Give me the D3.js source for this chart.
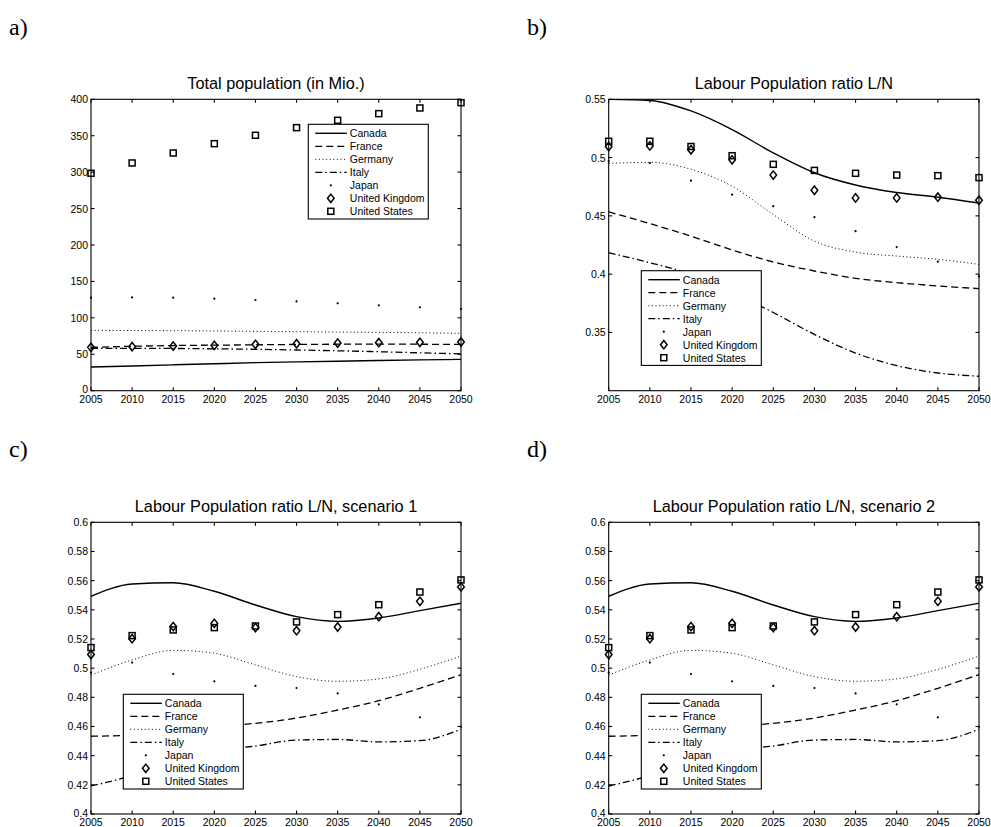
<!DOCTYPE html>
<html>
<head>
<meta charset="utf-8">
<script src="https://cdn.jsdelivr.net/npm/d3@7"></script>
<style>
  body { margin: 0; background: #fff; }
  svg { display: block; }
  text { font-family: "Liberation Sans", Arial, sans-serif; fill: #000; }
</style>
</head>
<body>
<svg id="chart" width="991" height="827"></svg>
<script>
// years on the x axis, one point every 5 years
const years = [2005, 2010, 2015, 2020, 2025, 2030, 2035, 2040, 2045, 2050]
const countries = ['Canada', 'France', 'Germany', 'Italy', 'Japan', 'United Kingdom', 'United States']

// a) total population, millions
const totalPop = {
    'Canada':         [32.5, 34, 35.5, 37, 38.5, 39.5, 40.5, 41.5, 42.3, 43],
    'France':         [59.5, 61, 62, 62.5, 63, 63.5, 63.8, 64, 63.8, 63.5],
    'Germany':        [82.8, 82.6, 82.4, 82.0, 81.5, 81, 80.5, 80, 79.5, 78.7],
    'Italy':          [58.1, 58.2, 58, 57.5, 56.8, 55.9, 54.8, 53.5, 52, 50.5],
    'Japan':          [127.7, 128.1, 127.7, 126.3, 124.5, 122.6, 119.9, 117.2, 114.4, 112.1],
    'United Kingdom': [59.5, 60.4, 61.3, 62.2, 63.6, 64.5, 65.4, 65.9, 66.4, 66.8],
    'United States':  [298.4, 312.6, 326.3, 339.1, 350.6, 361.1, 371.2, 380.3, 388.1, 395.4]
}

// b) labour population ratio L/N
const labourRatio = {
    'Canada':         [0.550, 0.549, 0.540, 0.524, 0.504, 0.487, 0.4765, 0.470, 0.466, 0.461],
    'France':         [0.4534, 0.4434, 0.4326, 0.4207, 0.4104, 0.4027, 0.3964, 0.3927, 0.3899, 0.3876],
    'Germany':        [0.495, 0.4959, 0.490, 0.4754, 0.4511, 0.4283, 0.4189, 0.4155, 0.4127, 0.4084],
    'Italy':          [0.4184, 0.4098, 0.3999, 0.3842, 0.3671, 0.3483, 0.3323, 0.3215, 0.3152, 0.3124],
    'Japan':          [0.497, 0.4953, 0.4802, 0.4682, 0.4583, 0.4489, 0.4369, 0.4232, 0.4107, 0.398],
    'United Kingdom': [0.5095, 0.510, 0.5067, 0.4981, 0.485, 0.472, 0.4654, 0.4654, 0.466, 0.4634],
    'United States':  [0.514, 0.514, 0.5095, 0.5016, 0.4942, 0.489, 0.4865, 0.485, 0.4845, 0.4828]
}

// c) labour population ratio, scenario 1
const labourScen1 = {
    'Canada':         [0.5493, 0.5577, 0.5586, 0.5527, 0.5433, 0.5353, 0.5321, 0.5344, 0.5394, 0.5445],
    'France':         [0.4533, 0.4542, 0.4571, 0.4599, 0.4622, 0.4658, 0.4713, 0.4777, 0.4862, 0.4955],
    'Germany':        [0.4953, 0.5056, 0.5122, 0.5102, 0.5022, 0.4942, 0.491, 0.4926, 0.4992, 0.5083],
    'Italy':          [0.4192, 0.4263, 0.436, 0.4432, 0.4466, 0.4507, 0.4511, 0.4494, 0.4503, 0.4581],
    'Japan':          [0.497, 0.5038, 0.496, 0.491, 0.4878, 0.4864, 0.4827, 0.4752, 0.4663, 0.4599],
    'United Kingdom': [0.5093, 0.5202, 0.5285, 0.5307, 0.5278, 0.5257, 0.5282, 0.5353, 0.5458, 0.5557],
    'United States':  [0.5141, 0.5223, 0.5262, 0.5278, 0.5289, 0.5317, 0.5367, 0.5435, 0.5522, 0.5605]
}

// d) scenario 2 reads the same as scenario 1 in the picture
const labourScen2 = {
    'Canada':         [0.5493, 0.5577, 0.5586, 0.5527, 0.5433, 0.5353, 0.5321, 0.5344, 0.5394, 0.5445],
    'France':         [0.4533, 0.4542, 0.4571, 0.4599, 0.4622, 0.4658, 0.4713, 0.4777, 0.4862, 0.4955],
    'Germany':        [0.4953, 0.5056, 0.5122, 0.5102, 0.5022, 0.4942, 0.491, 0.4926, 0.4992, 0.5083],
    'Italy':          [0.4192, 0.4263, 0.436, 0.4432, 0.4466, 0.4507, 0.4511, 0.4494, 0.4503, 0.4581],
    'Japan':          [0.497, 0.5038, 0.496, 0.491, 0.4878, 0.4864, 0.4827, 0.4752, 0.4663, 0.4599],
    'United Kingdom': [0.5093, 0.5202, 0.5285, 0.5307, 0.5278, 0.5257, 0.5282, 0.5353, 0.5458, 0.5557],
    'United States':  [0.5141, 0.5223, 0.5262, 0.5278, 0.5289, 0.5317, 0.5367, 0.5435, 0.5522, 0.5605]
}

const ticksPop = [0, 50, 100, 150, 200, 250, 300, 350, 400]
const ticksRatio = [0.35, 0.4, 0.45, 0.5, 0.55]
const ticksScen = [0.4, 0.42, 0.44, 0.46, 0.48, 0.5, 0.52, 0.54, 0.56, 0.58, 0.6]

// how each country is drawn
const styles = {
    'Canada':         { type: 'line', dash: null, width: 1.4 },
    'France':         { type: 'line', dash: '7,4' },
    'Germany':        { type: 'line', dash: '1,2.6', width: 1 },
    'Italy':          { type: 'line', dash: '7,3,1.5,3' },
    'Japan':          { type: 'dot' },
    'United Kingdom': { type: 'diamond' },
    'United States':  { type: 'square' }
}

const svg = d3.select('#chart')

function drawMarker(g, type, x, y) {
    if (type === 'dot') {
        g.append('circle').attr('cx', x).attr('cy', y).attr('r', 1.1)
            .attr('fill', '#000')
    } else if (type === 'diamond') {
        g.append('path')
            .attr('d', `M${x},${y - 4.2}L${x + 3.3},${y}L${x},${y + 4.2}L${x - 3.3},${y}Z`)
            .attr('fill', 'none').attr('stroke', '#000').attr('stroke-width', 1.5)
    } else if (type === 'square') {
        g.append('rect').attr('x', x - 3).attr('y', y - 3)
            .attr('width', 6).attr('height', 6)
            .attr('fill', 'none').attr('stroke', '#000').attr('stroke-width', 1.5)
    }
}

function drawPanel(p) {
    const g = svg.append('g')
    const x = d3.scaleLinear().domain([2005, 2050]).range([p.left, p.right])
    const y = d3.scaleLinear().domain(p.yDomain).range([p.bottom, p.top])

    // panel letter
    g.append('text').attr('x', p.labelX).attr('y', p.labelY)
        .style('font-family', '"Liberation Serif", "DejaVu Serif", serif')
        .style('font-size', '24px').text(p.label)

    // title
    g.append('text').attr('x', (p.left + p.right) / 2).attr('y', p.top - 10)
        .attr('text-anchor', 'middle').style('font-size', '16.3px').text(p.title)

    // series
    const clip = 'clip-' + p.label.replace(')', '')
    g.append('clipPath').attr('id', clip).append('rect')
        .attr('x', p.left).attr('y', p.top)
        .attr('width', p.right - p.left).attr('height', p.bottom - p.top)

    const line = d3.line()
        .x((d, i) => x(years[i]))
        .y(d => y(d))
        .curve(d3.curveMonotoneX)

    countries.forEach(c => {
        const s = styles[c]
        const vals = p.data[c]
        if (s.type === 'line') {
            g.append('path').attr('d', line(vals))
                .attr('clip-path', `url(#${clip})`)
                .attr('fill', 'none').attr('stroke', '#000')
                .attr('stroke-width', s.width || 1.3)
                .attr('stroke-dasharray', s.dash)
        } else {
            vals.forEach((v, i) => drawMarker(g, s.type, x(years[i]), y(v)))
        }
    })

    // axes box with inward ticks on all sides (matlab style)
    const axisG = g.append('g')
    const tl = 3.5
    p.yTicks.forEach(t => {
        const ty = y(t)
        axisG.append('line').attr('x1', p.left).attr('x2', p.left + tl).attr('y1', ty).attr('y2', ty)
        axisG.append('line').attr('x1', p.right).attr('x2', p.right - tl).attr('y1', ty).attr('y2', ty)
        g.append('text').attr('x', p.left - 3).attr('y', ty - (t === p.yDomain[0] ? 1.5 : 0))
            .attr('text-anchor', 'end').attr('dominant-baseline', 'central')
            .style('font-size', '10.5px').text(p.fmt(t))
    })
    years.forEach(t => {
        const tx = x(t)
        axisG.append('line').attr('x1', tx).attr('x2', tx).attr('y1', p.bottom).attr('y2', p.bottom - tl)
        axisG.append('line').attr('x1', tx).attr('x2', tx).attr('y1', p.top).attr('y2', p.top + tl)
        g.append('text').attr('x', tx).attr('y', p.bottom + 12)
            .attr('text-anchor', 'middle')
            .style('font-size', '10.5px').text(t)
    })
    axisG.append('rect').attr('x', p.left).attr('y', p.top)
        .attr('width', p.right - p.left).attr('height', p.bottom - p.top)
        .attr('fill', 'none')
    axisG.selectAll('line, rect').attr('stroke', '#000').attr('stroke-width', 1.1)

    // legend
    const lg = g.append('g').attr('transform', `translate(${p.legendX},${p.legendY})`)
    lg.append('rect').attr('width', 120).attr('height', 94.7)
        .attr('fill', '#fff').attr('stroke', '#000').attr('stroke-width', 1.1)
    countries.forEach((c, i) => {
        const s = styles[c]
        const ry = 9 + i * 13
        if (s.type === 'line') {
            lg.append('line').attr('x1', 7).attr('x2', 38.5).attr('y1', ry).attr('y2', ry)
                .attr('stroke', '#000').attr('stroke-width', s.width || 1.3)
                .attr('stroke-dasharray', s.dash)
        } else {
            drawMarker(lg, s.type, 22.5, ry)
        }
        lg.append('text').attr('x', 41.5).attr('y', ry)
            .attr('dominant-baseline', 'central')
            .style('font-size', '10.5px').text(c)
    })
}

const fmtNum = d => String(+d.toFixed(2))

drawPanel({
    label: 'a)', labelX: 9, labelY: 35, title: 'Total population (in Mio.)',
    left: 91, right: 461, top: 99.3, bottom: 390.7,
    yDomain: [0, 400], yTicks: ticksPop, fmt: fmtNum, data: totalPop,
    legendX: 308.3, legendY: 124.3
})
drawPanel({
    label: 'b)', labelX: 527, labelY: 35, title: 'Labour Population ratio L/N',
    left: 608.7, right: 979, top: 99.3, bottom: 390.7,
    yDomain: [0.3, 0.55], yTicks: ticksRatio, fmt: fmtNum, data: labourRatio,
    legendX: 641.3, legendY: 270.7
})
drawPanel({
    label: 'c)', labelX: 9, labelY: 457, title: 'Labour Population ratio L/N, scenario 1',
    left: 91, right: 461, top: 522.3, bottom: 814,
    yDomain: [0.4, 0.6], yTicks: ticksScen, fmt: fmtNum, data: labourScen1,
    legendX: 123.3, legendY: 694.3
})
drawPanel({
    label: 'd)', labelX: 527, labelY: 457, title: 'Labour Population ratio L/N, scenario 2',
    left: 608.7, right: 979, top: 522.3, bottom: 814,
    yDomain: [0.4, 0.6], yTicks: ticksScen, fmt: fmtNum, data: labourScen2,
    legendX: 641.3, legendY: 694.3
})
</script>
</body>
</html>
